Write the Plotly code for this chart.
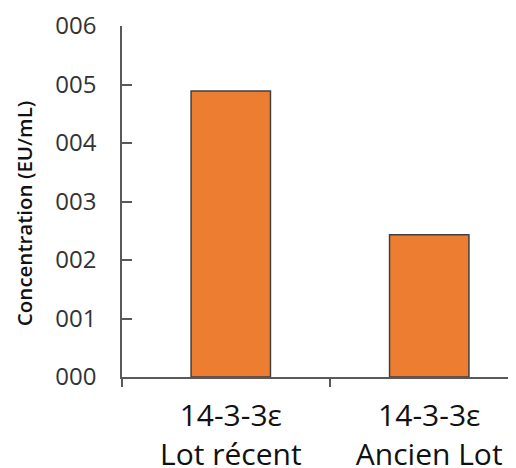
import plotly.graph_objects as go

categories = ["14-3-3ε<br>Lot récent", "14-3-3ε<br>Ancien Lot"]
values = [4.89, 2.43]
y_tickvals = [0, 1, 2, 3, 4, 5, 6]
y_ticktext = ["000", "001", "002", "003", "004", "005", "006"]
y_title = "Concentration (EU/mL)"

xpos = list(range(len(categories)))

fig = go.Figure()
fig.add_trace(go.Bar(
    x=xpos, y=values, width=0.4,
    marker=dict(color="#ED7D31", line=dict(color="#404040", width=1.5)),
))

axis_col = "#595959"
fig.update_layout(
    width=508, height=460,
    margin=dict(l=114, r=3, t=18, b=91, autoexpand=False),
    paper_bgcolor="white", plot_bgcolor="white",
    showlegend=False,
    font=dict(family="Open Sans", color="#222222"),
    xaxis=dict(
        range=[-0.548, 1.422], automargin=False,
        tickvals=xpos, ticktext=categories,
        ticks="", showgrid=False, zeroline=False,
        showline=True, linecolor=axis_col, linewidth=1.5,
        tickfont=dict(size=30, color="#111111"),
        ticklabelstandoff=11,
        minor=dict(tickvals=[-0.548, 0.5], ticks="outside", ticklen=8,
                   tickcolor=axis_col, tickwidth=1.5, showgrid=False),
    ),
    yaxis=dict(
        range=[0, 6], automargin=False,
        tickvals=y_tickvals, ticktext=y_ticktext,
        ticks="inside", ticklen=10, tickcolor=axis_col, tickwidth=1.5,
        showline=True, linecolor=axis_col, linewidth=1.5,
        showgrid=False, zeroline=False,
        tickfont=dict(size=24, color="#333333"),
        ticklabelstandoff=19,
    ),
    annotations=[dict(
        text=y_title, textangle=-90, showarrow=False,
        xref="paper", yref="paper", x=-0.2506, y=0.464,
        xanchor="center", yanchor="middle",
        font=dict(family="Open Sans", size=20.5, color="#111111", weight=600),
    )],
)

fig.write_html("out.html")
